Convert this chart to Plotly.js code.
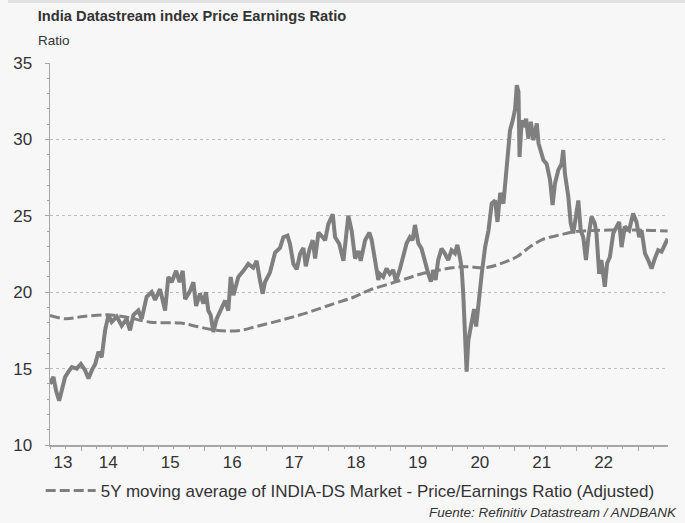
<!DOCTYPE html>
<html>
<head>
<meta charset="utf-8">
<script src="https://cdn.plot.ly/plotly-3.0.1.min.js"></script>
<style>
html,body{margin:0;padding:0;background:#f7f7f7;}
#chart{width:685px;height:523px;}
</style>
</head>
<body>
<div id="chart"></div>
<script>
// India Datastream index Price Earnings Ratio
var peDates = [
 '2013-07-01','2013-07-21','2013-08-07','2013-08-24','2013-09-09','2013-09-28','2013-10-18','2013-11-07','2013-12-06','2013-12-30',
 '2014-01-24','2014-02-13','2014-03-05','2014-03-25','2014-04-13','2014-05-02','2014-05-22','2014-06-11','2014-06-30','2014-07-30',
 '2014-08-28','2014-09-26','2014-10-16','2014-11-05','2014-12-04','2014-12-24','2015-01-22','2015-02-21','2015-03-13','2015-04-11',
 '2015-05-11','2015-05-30','2015-06-19','2015-07-15','2015-08-04','2015-08-23','2015-09-06','2015-10-02','2015-10-25','2015-11-10',
 '2015-12-03','2015-12-23','2016-01-07','2016-01-21','2016-02-04','2016-02-20','2016-03-10','2016-04-09','2016-04-29','2016-05-18',
 '2016-06-01','2016-06-17','2016-07-16','2016-08-15','2016-09-13','2016-10-12','2016-11-01','2016-11-21','2016-12-07','2016-12-20',
 '2017-01-19','2017-02-18','2017-03-19','2017-04-08','2017-05-02','2017-05-17','2017-06-06','2017-06-26','2017-07-15','2017-08-04',
 '2017-08-18','2017-09-09','2017-09-28','2017-10-12','2017-11-01','2017-11-26','2017-12-10','2017-12-29','2018-01-24','2018-02-07',
 '2018-03-04','2018-03-28','2018-04-13','2018-04-26','2018-05-16','2018-06-05','2018-06-25','2018-07-08','2018-08-03','2018-08-28',
 '2018-09-11','2018-10-06','2018-10-20','2018-10-29','2018-11-18','2018-12-07','2018-12-27','2019-01-16','2019-02-01','2019-02-25',
 '2019-03-16','2019-04-05','2019-04-24','2019-05-10','2019-05-24','2019-06-13','2019-07-02','2019-07-22','2019-08-11','2019-08-26',
 '2019-09-09','2019-09-23','2019-10-08','2019-10-28','2019-11-16','2019-12-06','2019-12-26','2020-01-15','2020-01-29','2020-02-13',
 '2020-02-23','2020-03-04','2020-03-14','2020-03-24','2020-04-03','2020-04-23','2020-05-07','2020-05-19','2020-06-02','2020-06-21',
 '2020-07-11','2020-07-31','2020-08-19','2020-09-08','2020-09-22','2020-10-08','2020-10-27','2020-11-16','2020-12-05','2020-12-21',
 '2021-01-04','2021-01-14','2021-01-24','2021-01-30','2021-02-12','2021-02-26','2021-03-10','2021-03-23','2021-04-07','2021-04-22',
 '2021-05-12','2021-05-22','2021-06-04','2021-06-20','2021-07-09','2021-07-29','2021-08-13','2021-08-27','2021-09-16','2021-10-05',
 '2021-10-15','2021-10-25','2021-11-14','2021-11-28','2021-12-13','2021-12-29','2022-01-12','2022-01-26','2022-02-10','2022-02-26',
 '2022-03-11','2022-03-31','2022-04-19','2022-04-29','2022-05-15','2022-05-28','2022-06-17','2022-07-01','2022-07-17','2022-08-06',
 '2022-08-25','2022-09-10','2022-09-24','2022-10-13','2022-11-08','2022-12-01','2022-12-21','2023-01-06','2023-01-20','2023-02-09',
 '2023-02-28','2023-03-20','2023-04-08','2023-04-28','2023-05-18','2023-06-07','2023-06-23'
];
var peValues = [
 14.0,14.45,13.5,12.9,13.6,14.45,14.8,15.1,15.0,15.3,
 14.9,14.35,14.9,15.3,16.1,15.75,17.5,18.5,18.05,18.4,
 17.8,18.25,17.5,18.5,18.8,18.25,19.7,20.0,19.5,20.2,
 18.8,21.0,20.65,21.4,20.65,21.4,19.55,20.0,20.65,19.1,
 19.9,19.25,20.0,18.8,18.5,17.4,18.25,19.0,19.45,18.8,
 21.0,19.8,21.0,21.4,21.85,21.6,22.05,20.75,19.9,20.65,
 21.3,22.6,22.9,23.6,23.7,23.15,21.85,21.5,22.5,22.9,
 21.7,22.8,23.4,22.2,23.9,23.6,23.4,24.45,25.1,23.6,
 23.15,22.05,23.6,25.0,24.0,22.2,22.7,22.05,23.4,23.9,
 23.4,21.65,20.8,21.2,21.0,21.55,21.2,21.45,20.7,21.55,
 22.3,23.2,23.6,23.4,24.4,23.2,22.85,21.9,21.2,20.7,
 21.45,20.8,22.1,22.85,22.55,22.1,22.75,22.55,23.1,22.3,
 21.65,19.9,17.75,14.8,16.85,17.95,18.9,17.75,19.5,21.2,
 22.95,24.05,25.8,26.0,24.6,26.5,25.8,28.65,30.6,31.25,
 32.0,33.55,33.1,28.85,31.25,30.8,31.35,30.05,31.15,29.95,
 31.05,29.75,29.3,28.65,28.4,27.35,25.7,27.1,28.0,28.4,
 29.3,27.75,26.25,24.5,23.85,24.95,26.0,24.05,23.6,22.1,
 23.5,24.95,24.5,23.85,21.2,22.1,20.35,21.9,22.3,23.85,
 24.3,24.6,22.95,24.3,24.05,25.15,24.6,23.6,24.05,22.55,
 22.1,21.55,22.2,22.75,22.65,23.2,23.5
];
// 5Y moving average
var maDates = [
 '2013-07-01','2013-09-28','2014-01-14','2014-06-01','2014-09-26','2015-02-12','2015-08-08','2015-11-14','2016-02-20','2016-05-09',
 '2016-07-26','2016-11-01','2017-03-19','2017-08-24','2018-01-28','2018-05-26','2018-09-01','2019-02-05','2019-06-23','2019-11-07',
 '2020-03-04','2020-07-20','2020-10-27','2021-01-14','2021-04-02','2021-06-20','2021-09-25','2021-12-13','2022-03-02','2022-06-08',
 '2022-10-04','2023-01-30','2023-06-23'
];
var maValues = [
 18.48,18.26,18.41,18.52,18.37,18.04,17.98,17.76,17.54,17.46,
 17.5,17.76,18.15,18.65,19.24,19.67,20.15,20.69,21.17,21.5,
 21.67,21.62,21.93,22.32,22.97,23.48,23.74,23.95,24.02,24.06,
 24.06,24.06,24.0
];
var maName = '5Y moving average of INDIA-DS Market - Price/Earnings Ratio (Adjusted)';
var yearLabelDates = ['2013-09-15','2014-06-10','2015-06-10','2016-06-10','2017-06-10','2018-06-10','2019-06-10','2020-06-10','2021-06-10','2022-06-10'];
var yearLabels = ['13','14','15','16','17','18','19','20','21','22'];
var xRange = ['2013-07-01','2023-06-25'];

var axisGrey = '#a6a6a6';
var lineGrey = '#7f7f7f';
var textCol = '#333333';

var traces = [
 {x: peDates, y: peValues, type:'scatter', mode:'lines', showlegend:false,
  line:{color:lineGrey, width:4}, xaxis:'x', yaxis:'y', hoverinfo:'skip'},
 {x: maDates, y: maValues, type:'scatter', mode:'lines', name: maName,
  line:{color:lineGrey, width:3, dash:'10px,4px', shape:'spline'}, xaxis:'x2', yaxis:'y', hoverinfo:'skip'}
];

var layout = {
 width:685, height:523,
 paper_bgcolor:'#f7f7f7', plot_bgcolor:'#f7f7f7',
 margin:{l:50, r:17, t:63, b:78},
 font:{family:'Liberation Sans, Arial, sans-serif', color:textCol},
 title:{text:'<b>India Datastream index Price Earnings Ratio</b>', xref:'container', yref:'container',
        x:0.055, xanchor:'left', y:0.969, yanchor:'middle', font:{size:14.7, color:textCol}},
 xaxis:{type:'date', range:xRange, showgrid:false, zeroline:false,
        showline:true, linecolor:axisGrey, linewidth:1.5,
        tick0:'2014-01-01', dtick:'M12', ticks:'outside', ticklen:4, tickcolor:axisGrey, tickwidth:1,
        minor:{dtick:'M3', tick0:'2014-01-01', ticks:'outside', ticklen:2, tickcolor:axisGrey, tickwidth:1, showgrid:false},
        showticklabels:false},
 xaxis2:{type:'date', matches:'x', range:xRange, overlaying:'x', anchor:'y', side:'bottom',
         showgrid:false, zeroline:false, showline:false, ticks:'',
         tickmode:'array', tickvals:yearLabelDates, ticktext:yearLabels,
         tickfont:{size:17, color:textCol}, ticklabelstandoff:5},
 yaxis:{range:[10,35], tickmode:'linear', tick0:10, dtick:5,
        showgrid:true, gridcolor:'#bdbdbd', griddash:'dot', gridwidth:1, zeroline:false,
        showline:true, linecolor:axisGrey, linewidth:1.5,
        ticks:'outside', ticklen:4, tickcolor:axisGrey, tickwidth:1,
        minor:{dtick:1, ticks:'outside', ticklen:2, tickcolor:axisGrey, tickwidth:1, showgrid:false},
        tickfont:{size:17, color:textCol}, ticklabelstandoff:9},
 showlegend:true,
 legend:{orientation:'h', x:-0.015, xanchor:'left', y:-0.12, yanchor:'middle',
         bgcolor:'rgba(0,0,0,0)', font:{size:17, color:textCol}, itemwidth:50},
 annotations:[
  {text:'Ratio', xref:'paper', yref:'paper', x:-0.023, y:1.059, xanchor:'left', yanchor:'middle',
   showarrow:false, font:{size:13.5, color:textCol}},
  {text:'<i>Fuente: Refinitiv Datastream / ANDBANK</i>', xref:'paper', yref:'paper', x:1.018, y:-0.178,
   xanchor:'right', yanchor:'middle', showarrow:false, font:{size:13.5, color:textCol}}
 ],
 shapes:[
  {type:'rect', xref:'paper', yref:'paper', x0:-0.068, x1:1.03, y0:1.157, y1:1.17,
   fillcolor:'#e3e3e3', line:{width:0}, layer:'below'}
 ]
};

Plotly.newPlot('chart', traces, layout, {displayModeBar:false, staticPlot:true});
</script>
</body>
</html>
